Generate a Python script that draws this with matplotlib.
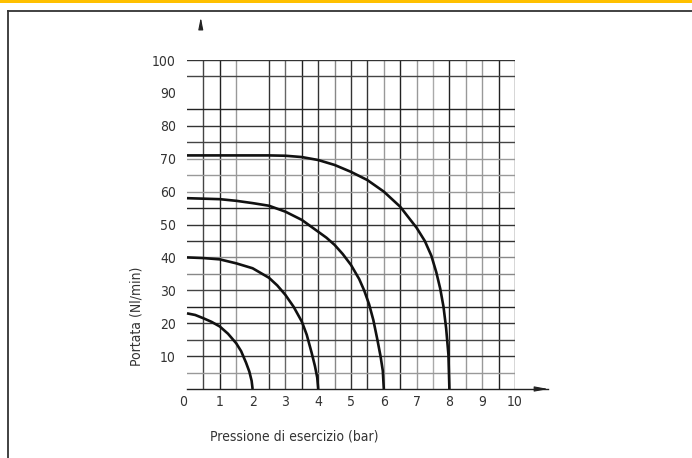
import numpy as np
import matplotlib
matplotlib.use('Agg')
import matplotlib.pyplot as plt
from matplotlib.lines import Line2D
from matplotlib.patches import Rectangle

plt.rcParams['font.family'] = ['DejaVu Sans']
plt.rcParams['font.stretch'] = 'condensed'

# curves (pressure in bar, flow in Nl/min)
x2 = [0, 0.25, 0.5, 0.75, 1, 1.25, 1.5, 1.65, 1.8, 1.9, 1.97, 2]
y2 = [23, 22.5, 21.5, 20.4, 19, 16.8, 13.9, 11.5, 8, 5.3, 2.5, 0]

x4 = [0, 0.5, 1, 1.5, 2, 2.5, 2.75, 3, 3.25, 3.5, 3.65, 3.8, 3.9, 3.97, 4]
y4 = [40, 39.8, 39.4, 38.2, 36.7, 33.8, 31.5, 28.6, 25, 20.5, 16.5, 11, 7, 3.5, 0]

x6 = [0, 1, 1.5, 2, 2.5, 3, 3.5, 4, 4.25, 4.5, 4.75, 5, 5.25, 5.4, 5.55, 5.68, 5.8, 5.9, 5.97, 6]
y6 = [58, 57.7, 57.2, 56.5, 55.7, 53.9, 51.4, 47.8, 46, 43.8, 41, 37.7, 33.4, 30, 25.8, 21, 15.2, 10, 5.5, 0]

x8 = [0, 2, 2.5, 3, 3.5, 4, 4.5, 5, 5.5, 6, 6.5, 7, 7.25, 7.45, 7.6, 7.72, 7.82, 7.9, 7.97, 8]
y8 = [71, 71, 71, 70.9, 70.5, 69.6, 68.1, 66, 63.5, 60, 55.4, 49, 45, 40.5, 35.5, 30.5, 25, 18.5, 10.5, 0]

xticks = list(range(0, 11))
yticks = list(range(10, 101, 10))

# grid lines (vertical every 0.5 bar, horizontal every 5 Nl/min), scan-like shades
vgrid = [0.5, 1, 1.5, 2.5, 3, 3.5, 4, 4.5, 5, 5.5, 6, 6.5, 7, 7.5, 8, 8.5, 9, 9.5, 10]
vshade = ['#444', '#222', '#999', '#333', '#666', '#222', '#333', '#888', '#333', '#333',
          '#999', '#222', '#999', '#aaa', '#222', '#999', '#999', '#222', '#333']
hgrid = [5, 10, 15, 20, 25, 30, 35, 40, 45, 50, 55, 60, 65, 70, 75, 80, 85, 95, 100]
hshade = ['#999', '#333', '#444', '#333', '#222', '#444', '#888', '#888', '#333', '#333',
          '#222', '#999', '#999', '#999', '#444', '#333', '#222', '#444', '#333']

W, H = 692, 458
fig = plt.figure(figsize=(W / 100, H / 100), dpi=100)

# page decoration: yellow strip and frame
fig.patches.append(Rectangle((0, 1 - 3 / H), 1, 3 / H, transform=fig.transFigure,
                             facecolor='#FFC000', edgecolor='none'))
fig.lines.append(Line2D([8 / W, 1], [1 - 11 / H, 1 - 11 / H], transform=fig.transFigure,
                        color='#333', lw=1.3))
fig.lines.append(Line2D([8 / W, 8 / W], [0, 1 - 11 / H], transform=fig.transFigure,
                        color='#333', lw=1.3))

x0, x1 = 187, 515
ytop, ybot = 60, 389
ax = fig.add_axes([x0 / W, 1 - ybot / H, (x1 - x0) / W, (ybot - ytop) / H])
ax.set_xlim(0, 10)
ax.set_ylim(0, 100)
for s in ax.spines.values():
    s.set_visible(False)

for v, c in zip(vgrid, vshade):
    ax.plot([v, v], [0, 100], color=c, lw=1.0, zorder=1)
for h, c in zip(hgrid, hshade):
    ax.plot([0, 10], [h, h], color=c, lw=1.0, zorder=1)

# x axis with arrow
ax.plot([0, 11.0], [0, 0], color='#222', lw=1.0, clip_on=False, zorder=2)
ax.annotate('', xy=(11.1, 0), xytext=(10.6, 0),
            arrowprops=dict(arrowstyle='-|>,head_length=0.8,head_width=0.15',
                            color='#222', lw=0.8), annotation_clip=False)
# y axis arrow head
ax.annotate('', xy=(0.42, 113.8), xytext=(0.42, 109.8),
            arrowprops=dict(arrowstyle='-|>,head_length=0.7,head_width=0.14',
                            color='#222', lw=0.8), annotation_clip=False)

for xs, ys in [(x2, y2), (x4, y4), (x6, y6), (x8, y8)]:
    ax.plot(xs, ys, color='#111', lw=1.9, solid_joinstyle='round',
            solid_capstyle='butt', zorder=3, clip_on=False)

ax.set_xticks(xticks)
ax.set_xticklabels([str(t) for t in xticks])
ax.set_yticks(yticks)
ax.set_yticklabels([str(t) for t in yticks])
ax.tick_params(length=0, labelsize=10, colors='#333')
ax.tick_params(axis='x', pad=4)
ax.tick_params(axis='y', pad=8)
ax.get_xticklabels()[0].set_horizontalalignment('right')

fig.text(137 / W, 1 - 316 / H, 'Portata (Nl/min)', rotation=90, ha='center',
         va='center', fontsize=10, color='#333')
fig.text(294 / W, 1 - 436 / H, 'Pressione di esercizio (bar)', ha='center',
         va='center', fontsize=10, color='#333')

fig.savefig('out.png', dpi=100)
